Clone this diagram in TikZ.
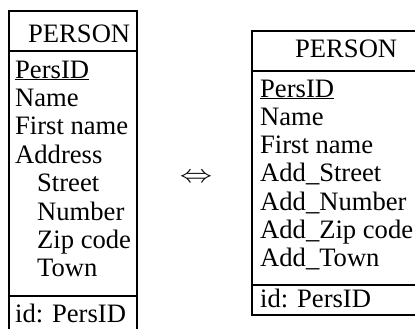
\documentclass[tikz,border=0pt]{standalone}
\usepackage{fontspec}
\setmainfont{Liberation Serif}
\begin{document}
\begin{tikzpicture}[x=1pt,y=-1pt,
  txt/.style={anchor=base west,inner sep=0pt,font=\fontsize{26.6}{28}\selectfont},
  frame/.style={line width=1.1pt},
  sep/.style={line width=2pt}]
\useasboundingbox (0,0) rectangle (415,329);
\clip (0,0) rectangle (415,329);
% left box
\draw[frame] (9,335) -- (9,11) -- (137,11) -- (137,335);
\draw[sep] (9,51) -- (137,51);
\draw[sep] (9,296) -- (137,296);
\node[txt] (lt) at (28,43) {PERSON};
\node[txt] (l1) at (15,78) {\underline{PersID}};
\node[txt] (l2) at (15,106.4) {Name};
\node[txt] (l3) at (15,134.8) {First name};
\node[txt] (l4) at (15,163.2) {Address};
\node[txt] (l5) at (37,191.6) {Street};
\node[txt] (l6) at (37,220) {Number};
\node[txt] (l7) at (37,248.4) {Zip code};
\node[txt] (l8) at (37,276.8) {Town};
\node[txt] (lid) at (15,322) {id: PersID};
% equivalence
\node[inner sep=0pt] (eq) at (196,178) {\scalebox{1.3}[1]{\fontsize{31}{33}\selectfont$\Leftrightarrow$}};
% right box
\draw[frame] (420,31) -- (252,31) -- (252,315) -- (420,315);
\draw[sep] (252,71) -- (420,71);
\draw[sep] (252,285) -- (420,285);
\node[txt] (rt) at (295,58) {PERSON};
\node[txt] (r1) at (260,97) {\underline{PersID}};
\node[txt] (r2) at (260,125.3) {Name};
\node[txt] (r3) at (260,153.6) {First name};
\node[txt] (r4) at (260,181.9) {Add\_Street};
\node[txt] (r5) at (260,210.2) {Add\_Number};
\node[txt] (r6) at (260,238.5) {Add\_Zip code};
\node[txt] (r7) at (260,266.8) {Add\_Town};
\node[txt] (rid) at (260,307) {id: PersID};
\end{tikzpicture}
\end{document}
